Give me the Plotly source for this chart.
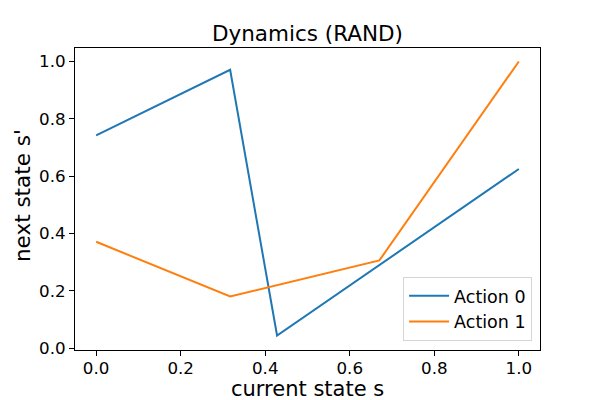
import plotly.graph_objects as go

x_a0 = [0.0, 0.317, 0.428, 1.0]
y_a0 = [0.742, 0.971, 0.044, 0.625]
x_a1 = [0.0, 0.317, 0.670, 1.0]
y_a1 = [0.371, 0.180, 0.306, 1.0]
tick_vals = [0.0, 0.2, 0.4, 0.6, 0.8, 1.0]
tick_text = ["0.0", "0.2", "0.4", "0.6", "0.8", "1.0"]

fig = go.Figure()
fig.add_trace(go.Scatter(x=x_a0, y=y_a0, mode="lines", name="Action 0",
                         line=dict(color="#1f77b4", width=2)))
fig.add_trace(go.Scatter(x=x_a1, y=y_a1, mode="lines", name="Action 1",
                         line=dict(color="#ff7f0e", width=2)))

axis_common = dict(showgrid=False, zeroline=False, showline=True, linecolor="black",
                   linewidth=1, mirror=True, ticks="outside", ticklen=5, tickwidth=1,
                   tickcolor="black", tickvals=tick_vals, ticktext=tick_text,
                   tickfont=dict(size=16.7, color="black"), automargin=False)

fig.update_layout(
    width=600, height=400,
    margin=dict(l=75, r=60, t=48, b=50, autoexpand=False),
    paper_bgcolor="white", plot_bgcolor="white",
    font=dict(family="DejaVu Sans", color="black"),
    title=dict(text="Dynamics (RAND)", x=(75 + 540) / 2 / 600, xanchor="center",
               y=1 - 33 / 400, yanchor="middle", font=dict(size=21.5, color="black")),
    xaxis=dict(range=[-0.05, 1.05], ticklabelstandoff=-2, **axis_common),
    yaxis=dict(range=[-0.0065, 1.047], **axis_common),
    legend=dict(x=0.983, y=0.03, xanchor="right", yanchor="bottom",
                bordercolor="#d5d5d5", borderwidth=1, bgcolor="rgba(255,255,255,0.8)",
                font=dict(size=17.5, color="black"), tracegroupgap=0, itemwidth=40),
    annotations=[
        dict(text="current state s", xref="paper", yref="paper", x=0.499, y=-0.13,
             xanchor="center", yanchor="middle", showarrow=False,
             font=dict(size=21, color="black")),
        dict(text="next state s'", xref="paper", yref="paper", x=-0.114, y=0.513,
             xanchor="center", yanchor="middle", textangle=-90, showarrow=False,
             font=dict(size=21.5, color="black")),
    ],
)

fig.write_html("out.html", config={"displayModeBar": False},
               post_script="document.body.style.margin='0';document.body.style.padding='0';")
